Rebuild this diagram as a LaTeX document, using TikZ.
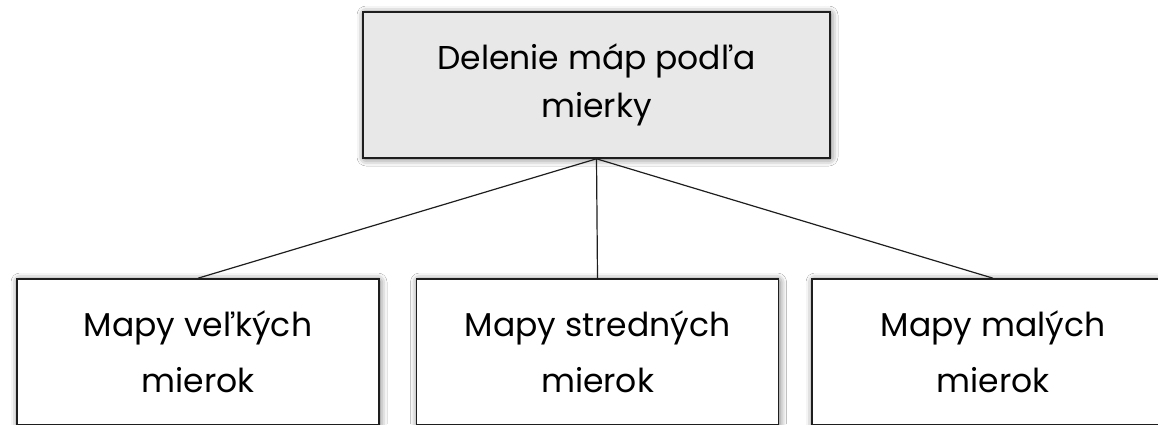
\documentclass[tikz,border=0pt]{standalone}
\usepackage{fontspec}
\setmainfont{Poppins}
\usetikzlibrary{shadows.blur}
\definecolor{topfill}{RGB}{232,232,232}
\definecolor{edge}{RGB}{30,30,30}
\tikzset{
  box/.style={draw=edge, line width=1.6pt, inner sep=0pt, align=center,
    blur shadow={shadow xshift=1pt, shadow yshift=-1pt, shadow blur radius=7pt, shadow opacity=60, shadow blur extra rounding=2pt}},
  topbox/.style={box, fill=topfill, minimum width=467pt, minimum height=146pt,
    font=\fontsize{33}{48}\selectfont},
  leafbox/.style={box, fill=white, minimum width=362pt, minimum height=146pt,
    font=\fontsize{33}{56}\selectfont},
  link/.style={draw=edge, line width=1.2pt}
}
\begin{document}
\begin{tikzpicture}[x=1pt,y=1pt]
\useasboundingbox (0,0) rectangle (1158,-424);
\clip (0,0) rectangle (1158,-424);
\fill[white] (0,0) rectangle (1158,-424);
\node[topbox] (top) at (596.5,-85) {Delenie máp podľa\\mierky};
\node[leafbox] (l) at (198,-352) {Mapy veľkých\\mierok};
\node[leafbox] (m) at (597.5,-352) {Mapy stredných\\mierok};
\node[leafbox] (r) at (993,-352) {Mapy malých\\mierok};
\draw[link] (top.south) -- (l.north);
\draw[link] (top.south) -- (m.north);
\draw[link] (top.south) -- (r.north);
\end{tikzpicture}
\end{document}
